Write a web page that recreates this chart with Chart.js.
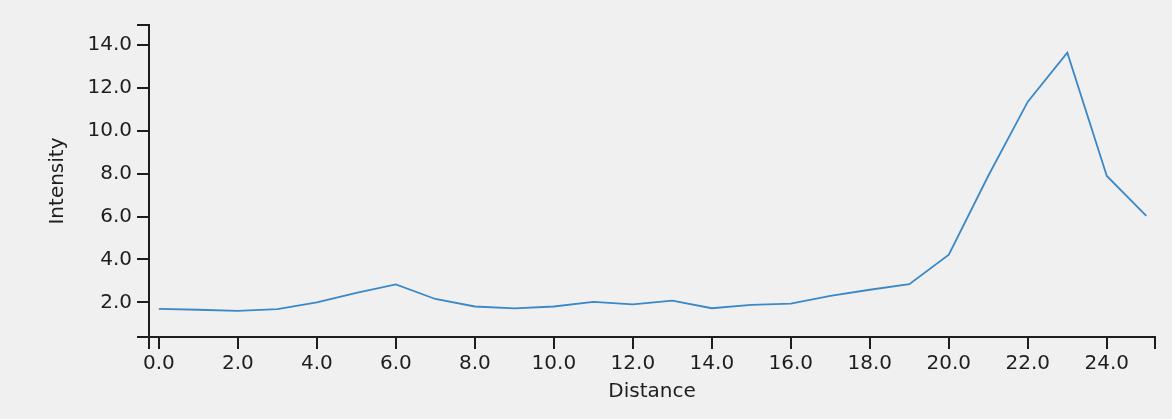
<!DOCTYPE html>
<html>
<head>
<meta charset="utf-8">
<script src="https://cdn.jsdelivr.net/npm/chart.js@4"></script>
<style>
  body { margin: 0; background: #f0f0f0; }
  canvas { display: block; }
</style>
</head>
<body>
<canvas id="profile" width="1172" height="419"></canvas>
<script>
const distance = [0, 1, 2, 3, 4, 5, 6, 7, 8, 9, 10, 11, 12, 13, 14, 15, 16, 17, 18, 19, 20, 21, 22, 23, 24, 25];
const intensity = [1.70, 1.66, 1.61, 1.69, 2.00, 2.44, 2.84, 2.16, 1.81, 1.72, 1.81, 2.03, 1.91, 2.08, 1.73,
  1.89, 1.94, 2.31, 2.59, 2.85, 4.22, 7.90, 11.35, 13.63, 7.89, 6.03];

const xTicks = [0, 2, 4, 6, 8, 10, 12, 14, 16, 18, 20, 22, 24];
const yTicks = [2, 4, 6, 8, 10, 12, 14];
const xRange = [-0.25, 25.22];
const yRange = [0.39, 14.92];

const ink = "#1e1e1e";
const font = { family: "'DejaVu Sans'", size: 20 };

// d3-like axis: ticks outward, end caps at both range ends
function axisTicks(list) {
  return (scale) => {
    scale.ticks = [scale.min, ...list, scale.max].map((v) => ({ value: v }));
  };
}
const label = (list) => (v) => (list.includes(v) ? v.toFixed(1) : "");

new Chart(document.getElementById("profile"), {
  type: "line",
  data: {
    datasets: [
      {
        data: distance.map((d, i) => ({ x: d, y: intensity[i] })),
        borderColor: "#3a88c8",
        borderWidth: 1.8,
        pointRadius: 0,
        tension: 0,
        fill: false,
      },
    ],
  },
  options: {
    responsive: false,
    animation: false,
    layout: { padding: { top: 25, right: 17, left: 0, bottom: 0 } },
    plugins: { legend: { display: false }, tooltip: { enabled: false } },
    scales: {
      x: {
        type: "linear",
        min: xRange[0],
        max: xRange[1],
        afterBuildTicks: axisTicks(xTicks),
        afterFit: (s) => { s.height = 82; },
        grid: { drawOnChartArea: false, color: ink, lineWidth: 2, tickLength: 12 },
        border: { color: ink, width: 2 },
        ticks: { callback: label(xTicks), color: ink, font, padding: 3, autoSkip: false, maxRotation: 0 },
        title: { display: true, text: "Distance", color: ink, font, padding: { top: 0, bottom: 15 } },
      },
      y: {
        type: "linear",
        min: yRange[0],
        max: yRange[1],
        afterBuildTicks: axisTicks(yTicks),
        afterFit: (s) => { s.width = 149; },
        grid: { drawOnChartArea: false, color: ink, lineWidth: 2, tickLength: 12 },
        border: { color: ink, width: 2 },
        ticks: { callback: label(yTicks), color: ink, font, padding: 5, autoSkip: false },
        title: { display: true, text: "Intensity", color: ink, font, padding: { top: 46, bottom: 0 } },
      },
    },
  },
});
</script>
</body>
</html>
